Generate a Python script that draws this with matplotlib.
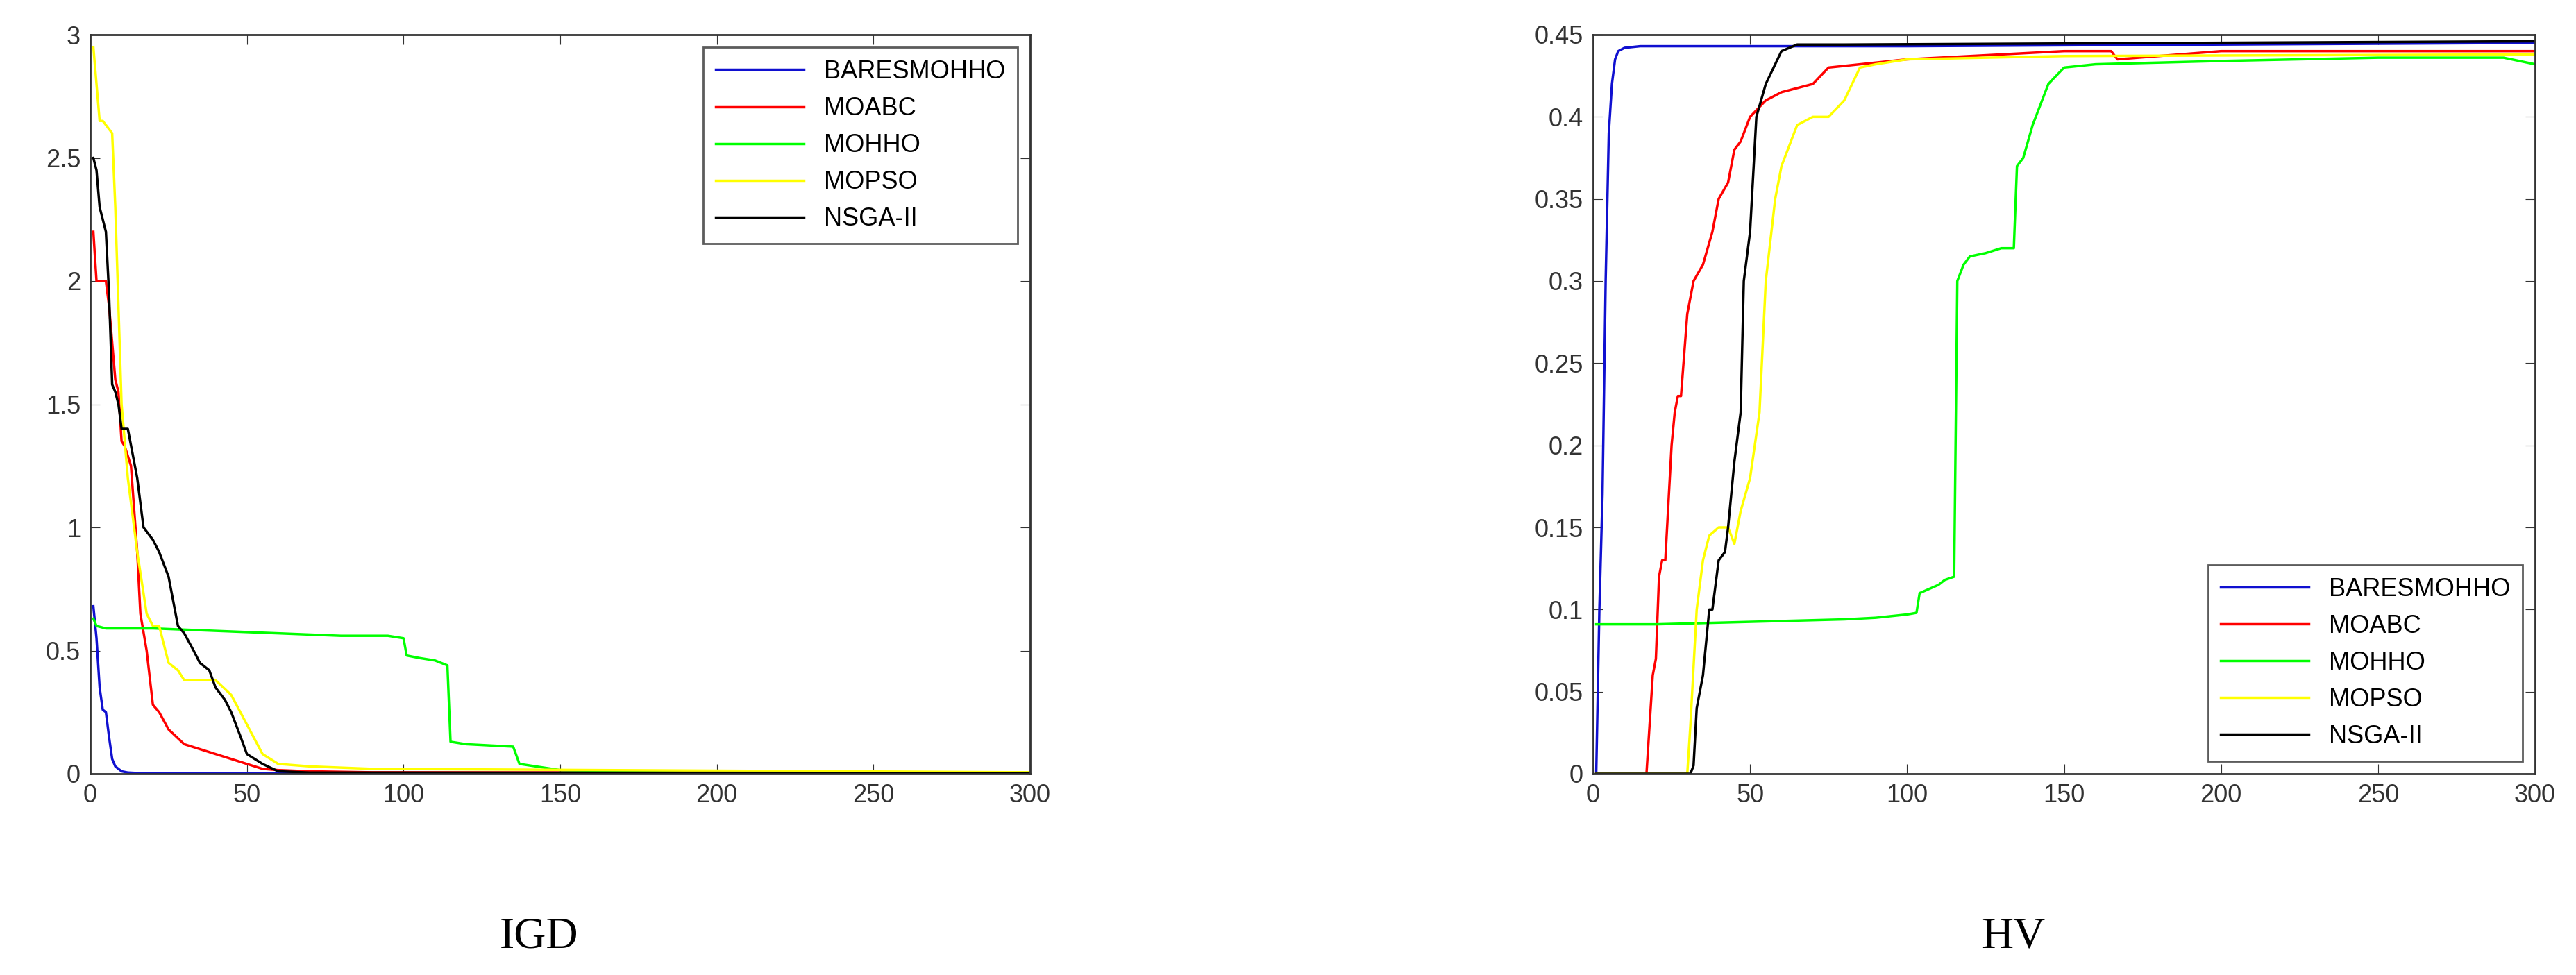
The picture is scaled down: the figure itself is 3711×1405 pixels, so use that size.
import matplotlib
matplotlib.use("Agg")
import matplotlib.pyplot as plt
plt.rcParams['font.family'] = ['Liberation Sans', 'DejaVu Sans']

names = ["BARESMOHHO", "MOABC", "MOHHO", "MOPSO", "NSGA-II"]
colors = ["#1010d0", "#ff0000", "#00ff00", "#ffff00", "#000000"]

# IGD curves (iteration, value)
igd_x = {
 "BARESMOHHO": [1, 2, 3, 4, 5, 6, 7, 8, 10, 12, 15, 20, 300],
 "MOABC": [1, 2, 3, 5, 6, 7, 8, 9, 10, 11, 13, 15, 16, 18, 20, 22, 25, 30, 35, 40, 45, 50, 55, 60, 70, 80, 90, 300],
 "MOHHO": [1, 2, 5, 20, 40, 60, 80, 95, 100, 101, 105, 110, 114, 115, 120, 135, 137, 150, 200, 300],
 "MOPSO": [1, 3, 4, 7, 8, 10, 12, 15, 18, 20, 22, 25, 28, 30, 33, 40, 45, 50, 55, 60, 70, 90, 300],
 "NSGA-II": [1, 2, 3, 5, 6, 7, 8, 9, 10, 12, 15, 17, 20, 22, 25, 28, 30, 33, 35, 38, 40, 43, 45, 48, 50, 55, 60, 70, 300],
}
igd_y = {
 "BARESMOHHO": [0.68, 0.55, 0.35, 0.26, 0.25, 0.15, 0.06, 0.03, 0.01, 0.005, 0.003, 0.002, 0.001],
 "MOABC": [2.2, 2.0, 2.0, 2.0, 1.9, 1.75, 1.6, 1.55, 1.35, 1.33, 1.25, 0.9, 0.65, 0.5, 0.28, 0.25, 0.18, 0.12, 0.1, 0.08, 0.06, 0.04, 0.02, 0.015, 0.01, 0.008, 0.006, 0.004],
 "MOHHO": [0.63, 0.6, 0.59, 0.59, 0.58, 0.57, 0.56, 0.56, 0.55, 0.48, 0.47, 0.46, 0.44, 0.13, 0.12, 0.11, 0.04, 0.015, 0.006, 0.005],
 "MOPSO": [2.95, 2.65, 2.65, 2.6, 2.3, 1.5, 1.2, 0.9, 0.65, 0.6, 0.6, 0.45, 0.42, 0.38, 0.38, 0.38, 0.32, 0.2, 0.08, 0.04, 0.03, 0.02, 0.006],
 "NSGA-II": [2.5, 2.45, 2.3, 2.2, 1.95, 1.58, 1.55, 1.5, 1.4, 1.4, 1.2, 1.0, 0.95, 0.9, 0.8, 0.6, 0.57, 0.5, 0.45, 0.42, 0.35, 0.3, 0.25, 0.15, 0.08, 0.04, 0.01, 0.005, 0.003],
}

# HV curves
hv_x = {
 "BARESMOHHO": [1, 2, 3, 4, 5, 6, 7, 8, 10, 15, 50, 100, 300],
 "MOABC": [17, 18, 19, 20, 21, 22, 23, 25, 26, 27, 28, 30, 32, 35, 38, 40, 43, 45, 47, 50, 55, 60, 70, 75, 100, 150, 165, 167, 200, 300],
 "MOHHO": [1, 20, 40, 60, 80, 90, 100, 103, 104, 110, 112, 115, 116, 118, 120, 125, 130, 134, 135, 137, 140, 145, 150, 160, 200, 250, 290, 300],
 "MOPSO": [1, 30, 31, 33, 35, 37, 40, 43, 45, 47, 50, 53, 55, 58, 60, 65, 70, 75, 80, 85, 90, 100, 150, 300],
 "NSGA-II": [1, 31, 32, 33, 35, 37, 38, 40, 42, 43, 45, 47, 48, 50, 52, 55, 60, 65, 80, 300],
}
hv_y = {
 "BARESMOHHO": [0.0, 0.1, 0.17, 0.3, 0.39, 0.42, 0.435, 0.44, 0.442, 0.443, 0.443, 0.443, 0.445],
 "MOABC": [0.0, 0.03, 0.06, 0.07, 0.12, 0.13, 0.13, 0.2, 0.22, 0.23, 0.23, 0.28, 0.3, 0.31, 0.33, 0.35, 0.36, 0.38, 0.385, 0.4, 0.41, 0.415, 0.42, 0.43, 0.435, 0.44, 0.44, 0.435, 0.44, 0.44],
 "MOHHO": [0.091, 0.091, 0.092, 0.093, 0.094, 0.095, 0.097, 0.098, 0.11, 0.115, 0.118, 0.12, 0.3, 0.31, 0.315, 0.317, 0.32, 0.32, 0.37, 0.375, 0.395, 0.42, 0.43, 0.432, 0.434, 0.436, 0.436, 0.432],
 "MOPSO": [0.0, 0.0, 0.03, 0.1, 0.13, 0.145, 0.15, 0.15, 0.14, 0.16, 0.18, 0.22, 0.3, 0.35, 0.37, 0.395, 0.4, 0.4, 0.41, 0.43, 0.432, 0.435, 0.437, 0.438],
 "NSGA-II": [0.0, 0.0, 0.005, 0.04, 0.06, 0.1, 0.1, 0.13, 0.135, 0.15, 0.19, 0.22, 0.3, 0.33, 0.4, 0.42, 0.44, 0.444, 0.444, 0.446],
}

fig = plt.figure(figsize=(37.11, 14.05), dpi=100)
fs = 26
ax1 = fig.add_axes([130/3711, 1 - 1115/1405, (1484-130)/3711, (1115-50)/1405])
ax2 = fig.add_axes([2295/3711, 1 - 1115/1405, (3652-2295)/3711, (1115-50)/1405])

for n, c in zip(names, colors):
    ax1.plot(igd_x[n], igd_y[n], color=c, lw=2.5, label=n)
    ax2.plot(hv_x[n], hv_y[n], color=c, lw=2.5, label=n)

ax1.set_xlim(0, 300); ax1.set_ylim(0, 3)
ax1.set_xticks([0, 50, 100, 150, 200, 250, 300])
ax1.set_yticks([0, 0.5, 1, 1.5, 2, 2.5, 3])
ax1.set_yticklabels(["0", "0.5", "1", "1.5", "2", "2.5", "3"])
ax2.set_xlim(0, 300); ax2.set_ylim(0, 0.45)
ax2.set_xticks([0, 50, 100, 150, 200, 250, 300])
ax2.set_yticks([0, 0.05, 0.1, 0.15, 0.2, 0.25, 0.3, 0.35, 0.4, 0.45])
ax2.set_yticklabels(["0", "0.05", "0.1", "0.15", "0.2", "0.25", "0.3", "0.35", "0.4", "0.45"])

for ax in (ax1, ax2):
    ax.tick_params(labelsize=fs, direction="in", length=10, top=True, right=True, color="#333333", labelcolor="#333333", pad=10)
    for s in ax.spines.values():
        s.set_linewidth(2); s.set_color("#333333")

leg1 = ax1.legend(loc="upper right", fontsize=fs, fancybox=False, edgecolor="#333333",
                  handlelength=3.5, borderpad=0.5, labelspacing=0.5)
leg2 = ax2.legend(loc="lower right", fontsize=fs, fancybox=False, edgecolor="#333333",
                  handlelength=3.5, borderpad=0.5, labelspacing=0.5)
for l in (leg1, leg2):
    l.get_frame().set_linewidth(2)

fig.text(776/3711, 1 - 1350/1405, "IGD", fontsize=46, family="Liberation Serif", ha="center", va="center")
fig.text(2900/3711, 1 - 1350/1405, "HV", fontsize=46, family="Liberation Serif", ha="center", va="center")

fig.savefig("out.png", dpi=100)
